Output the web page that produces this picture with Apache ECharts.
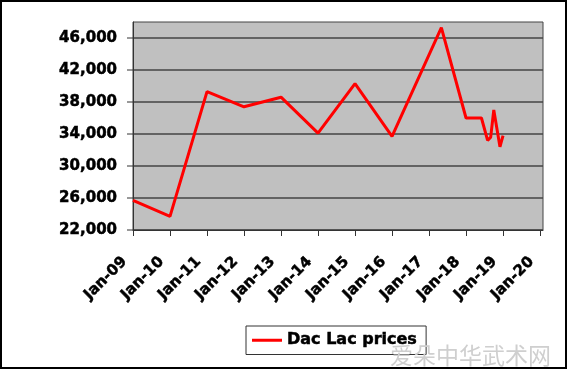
<!DOCTYPE html>
<html><head><meta charset="utf-8">
<script src="https://cdn.jsdelivr.net/npm/echarts@6/dist/echarts.min.js"></script>
<style>html,body{margin:0;padding:0;background:#fff}#c{width:572px;height:371px}</style>
</head><body><div id="c"></div>
<script>
const seriesName = 'Dac Lac prices';
const dates = ['2009-01','2010-01','2011-01','2012-01','2013-01','2014-01','2015-01','2016-01','2017-05','2018-01','2018-06','2018-08','2018-09','2018-10','2018-12','2019-01'];
const prices = [25700,23700,39300,37400,38600,34100,40300,33700,47300,36000,36000,33200,33600,37000,32400,33800];
const xTickLabels = ['Jan-09','Jan-10','Jan-11','Jan-12','Jan-13','Jan-14','Jan-15','Jan-16','Jan-17','Jan-18','Jan-19','Jan-20'];
const yTickValues = [22000,26000,30000,34000,38000,42000,46000];
const yTickLabels = ['22,000','26,000','30,000','34,000','38,000','42,000','46,000'];
const watermark = '爱朵中华武术网';

function toYear(d){ const p = d.split('-'); return +p[0] + (+p[1]-1)/12; }
const FONT = 'DejaVu Sans';
const heavy = { fontFamily: FONT, fontWeight: 'bold', color: '#000', textBorderColor: '#000', textBorderWidth: 0.5 };

const chart = echarts.init(document.getElementById('c'), null, {renderer:'canvas'});
chart.setOption({
  animation: false,
  backgroundColor: '#fff',
  grid: { left: 133, right: 29, top: 22, bottom: 141, show: true, backgroundColor: '#c0c0c0', borderColor: '#444', borderWidth: 1, containLabel: false },
  xAxis: {
    type: 'value', min: 2009, max: 2020.08, interval: 1,
    axisLine: { show: true, lineStyle: { color: '#333', width: 1 } },
    axisTick: { show: true, length: 6, lineStyle: { color: '#333' } },
    splitLine: { show: false },
    axisLabel: Object.assign({
      rotate: 45, margin: 21, padding: [0, 12, 0, 0], showMaxLabel: false, fontSize: 15,
      formatter: v => { const i = Math.round(v - 2009); return Math.abs(v - 2009 - i) < 1e-6 && xTickLabels[i] ? xTickLabels[i] : ''; }
    }, heavy)
  },
  yAxis: {
    type: 'value', min: 22000, max: 48000, interval: 2000,
    axisLine: { show: true, lineStyle: { color: '#333', width: 1 } },
    axisTick: { show: false },
    splitLine: { show: true, showMinLine: true, showMaxLine: true, lineStyle: { color: ['#444', 'rgba(0,0,0,0)'], width: 1.5 } },
    axisLabel: Object.assign({
      margin: 16, fontSize: 15,
      formatter: v => { const k = yTickValues.indexOf(v); return k >= 0 ? yTickLabels[k] : ''; }
    }, heavy)
  },
  legend: {
    left: 246, top: 326, padding: [6, 9, 6, 6], itemWidth: 30, itemHeight: 3,
    borderColor: '#333', borderWidth: 1, backgroundColor: '#fff',
    textStyle: Object.assign({ fontSize: 16 }, heavy),
    data: [{ name: seriesName, icon: 'rect' }]
  },
  series: [{
    name: seriesName, type: 'line', symbol: 'none',
    lineStyle: { color: '#ff0000', width: 3 }, itemStyle: { color: '#ff0000' },
    data: dates.map((d, i) => [toYear(d), prices[i]])
  }, {
    name: 'yticks', type: 'custom', clip: false, silent: true,
    data: yTickValues.map(v => [2009, v]),
    renderItem: (params, api) => {
      const p = api.coord([api.value(0), api.value(1)]);
      return { type: 'line', shape: { x1: p[0] - 6, y1: p[1], x2: p[0], y2: p[1] }, style: { stroke: '#333', lineWidth: 1 } };
    }
  }],
  graphic: [
    { type: 'rect', shape: { x: 1, y: 1, width: 565, height: 367 }, style: { fill: 'none', stroke: '#000', lineWidth: 2 }, z: 100 },
    { type: 'text', x: 390, y: 344, style: { text: watermark, font: '23px "Noto Sans CJK SC"', fill: '#cfcfcf' }, z: 101 }
  ]
});
</script></body></html>
